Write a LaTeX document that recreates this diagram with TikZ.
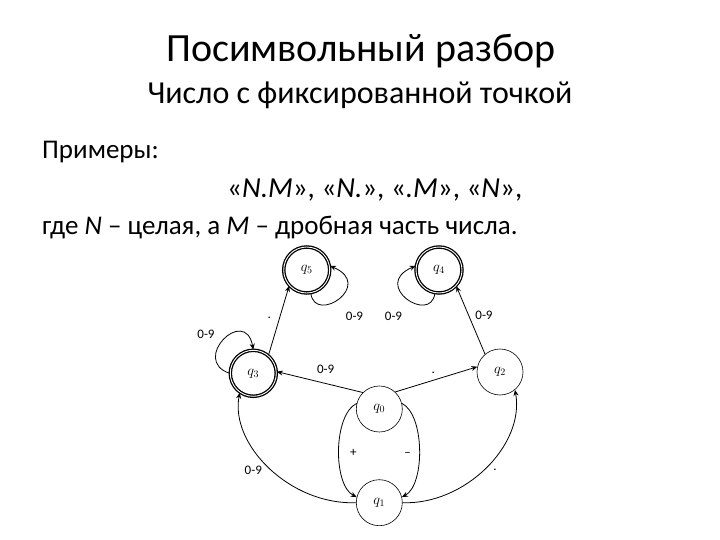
\documentclass[tikz,border=0pt]{standalone}
\usepackage{fontspec}
\setmainfont{Carlito}
\usetikzlibrary{arrows.meta}
\tikzset{
  st/.style={circle, draw, line width=0.6pt, minimum size=46pt, inner sep=0pt, font=\fontsize{14}{14}\selectfont},
  fin/.style={st, double, double distance=0.9pt, line width=1.3pt},
  ed/.style={line width=0.8pt, -{Stealth[length=6pt,width=5pt]}},
  lb/.style={font=\fontsize{13}{13}\selectfont, inner sep=0pt},
  txt/.style={inner sep=0pt, anchor=base west}
}
\begin{document}
\begin{tikzpicture}[x=1pt,y=-1pt]
\useasboundingbox (0,0) rectangle (720,540);
% texts
\node[inner sep=0pt, anchor=base, font=\fontsize{40}{40}\selectfont] (t1) at (361,62) {Посимвольный разбор};
\node[inner sep=0pt, anchor=base, font=\fontsize{32}{32}\selectfont] (t2) at (360,104) {Число с фиксированной точкой};
\node[txt, font=\fontsize{27}{27}\selectfont] (t3) at (42,159) {Примеры:};
\node[txt, font=\fontsize{29}{29}\selectfont] (t4) at (227,198) {«\textit{N.M}», «\textit{N.}», «\textit{.M}», «\textit{N}»,};
\node[txt, font=\fontsize{27}{27}\selectfont] (t5) at (42,234) {где \textit{N} – целая, а \textit{M} – дробная часть числа.};
% states
\node[fin] (q5) at (306.7,270) {$q_5$};
\node[fin] (q4) at (439,270) {$q_4$};
\node[fin] (q3) at (253.3,373.3) {$q_3$};
\node[st] (q2) at (500,372) {$q_2$};
\node[st] (q0) at (379.3,409) {$q_0$};
\node[st] (q1) at (379.3,502.7) {$q_1$};
% edges
\draw[ed] (q0.135) -- (q3.4);
\draw[ed] (q0.47) -- (q2.167);
\draw[ed] (q3.50) -- (q5.-138);
\draw[ed] (q2.130) -- (q4.-43);
\draw[ed] (q5.-80) .. controls (315,325) and (375,285) .. (q5.10);
\draw[ed] (q4.-100) .. controls (430.7,325) and (370.7,285) .. (q4.170);
\draw[ed] (q3.180) .. controls (190,360) and (245,305) .. (q3.90);
\draw[ed] (q0.166) .. controls (333,415) and (333,485) .. (q1.166);
\draw[ed] (q0.14) .. controls (425,415) and (425,485) .. (q1.14);
\draw[ed] (q1.180) .. controls (290,505) and (230,445) .. (q3.-125);
\draw[ed] (q1.0) .. controls (465,505) and (525,445) .. (q2.-50);
% labels
\node[lb] (l1) at (325.7,369) {0-9};
\node[lb] (l2) at (433.3,372.7) {.};
\node[lb] (l3) at (269.3,318.3) {.};
\node[lb] (l4) at (484,315.7) {0-9};
\node[lb] (l5) at (354.5,316) {0-9};
\node[lb] (l6) at (393.5,316) {0-9};
\node[lb] (l7) at (206,334) {0-9};
\node[lb] (l8) at (353.3,453.3) {+};
\node[lb] (l9) at (407.7,454) {–};
\node[lb] (l10) at (253.3,470) {0-9};
\node[lb] (l11) at (495,470) {.};
\end{tikzpicture}
\end{document}
